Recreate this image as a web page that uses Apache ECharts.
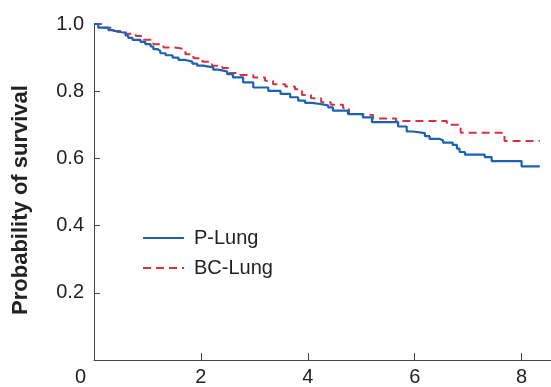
<!DOCTYPE html>
<html>
<head>
<meta charset="utf-8">
<script src="https://cdn.jsdelivr.net/npm/echarts@6/dist/echarts.min.js"></script>
<style>
html,body{margin:0;padding:0;background:#fff;}
#chart{width:551px;height:387px;}
</style>
</head>
<body>
<div id="chart"></div>
<script>
// P-Lung Kaplan-Meier steps (time in years, survival probability)
var pLungTimes = [0, 0.08, 0.27, 0.35, 0.44, 0.59, 0.64, 0.72, 0.87, 0.96, 1.06, 1.11, 1.19, 1.24, 1.34, 1.47, 1.58, 1.71, 1.84, 1.93, 2.04, 2.23, 2.32, 2.49, 2.60, 2.79, 2.98, 3.26, 3.49, 3.67, 3.82, 3.95, 4.08, 4.23, 4.38, 4.47, 4.75, 5.03, 5.20, 5.69, 5.85, 5.97, 6.19, 6.28, 6.47, 6.53, 6.71, 6.79, 6.84, 6.94, 7.31, 7.44, 8.00, 8.34];
var pLungSurv  = [1.000, 0.989, 0.982, 0.977, 0.974, 0.966, 0.959, 0.953, 0.947, 0.940, 0.933, 0.925, 0.920, 0.913, 0.907, 0.900, 0.893, 0.888, 0.882, 0.876, 0.871, 0.864, 0.859, 0.851, 0.841, 0.826, 0.811, 0.801, 0.792, 0.782, 0.772, 0.765, 0.762, 0.758, 0.752, 0.742, 0.732, 0.722, 0.708, 0.695, 0.680, 0.675, 0.666, 0.658, 0.653, 0.647, 0.640, 0.629, 0.619, 0.611, 0.604, 0.592, 0.576, 0.576];

// BC-Lung Kaplan-Meier steps
var bcLungTimes = [0, 0.18, 0.36, 0.59, 0.78, 0.92, 1.11, 1.30, 1.52, 1.71, 1.86, 2.03, 2.21, 2.40, 2.51, 2.74, 2.98, 3.20, 3.35, 3.58, 3.76, 3.89, 4.06, 4.25, 4.43, 4.66, 4.77, 4.98, 5.22, 5.65, 6.60, 6.86, 7.68, 8.34];
var bcLungSurv  = [1.000, 0.989, 0.979, 0.971, 0.964, 0.953, 0.940, 0.930, 0.925, 0.910, 0.898, 0.888, 0.876, 0.869, 0.854, 0.848, 0.841, 0.831, 0.821, 0.814, 0.806, 0.789, 0.779, 0.767, 0.760, 0.750, 0.732, 0.729, 0.719, 0.711, 0.700, 0.676, 0.652, 0.652];

var seriesNames = ['P-Lung', 'BC-Lung'];
var xTickLabels = ['0', '2', '4', '6', '8'];
var yTickLabels = ['0.2', '0.4', '0.6', '0.8', '1.0'];

function pairs(ts, vs) { return ts.map(function (t, i) { return [t, vs[i]]; }); }

var FONT = '"Liberation Sans", Arial, Helvetica, sans-serif';
var chart = echarts.init(document.getElementById('chart'), null, {renderer: 'canvas'});
chart.setOption({
  animation: false,
  backgroundColor: '#ffffff',
  grid: {left: 94, right: 0, top: 24, bottom: 27, containLabel: false},
  legend: {
    orient: 'vertical', left: 142, top: 228, padding: 0,
    itemWidth: 41, itemHeight: 14, itemGap: 10,
    itemStyle: {opacity: 0},
    textStyle: {fontFamily: FONT, fontSize: 20, color: '#222', lineHeight: 20, padding: [0, 0, 0, 5]},
    data: seriesNames
  },
  xAxis: {
    type: 'value', min: 0, max: 8.55, interval: 2,
    axisLine: {show: true, lineStyle: {color: '#444', width: 1}},
    axisTick: {show: true, inside: true, length: 7, lineStyle: {color: '#444'}},
    splitLine: {show: false},
    axisLabel: {
      showMaxLabel: false, margin: 7,
      fontFamily: FONT, fontSize: 20, color: '#222',
      formatter: function (v) {
        var s = xTickLabels[Math.round(v / 2)];
        if (s === undefined) return '';
        return v === 0 ? '{z|' + s + '}' : s;
      },
      rich: {z: {fontFamily: FONT, fontSize: 20, color: '#222', padding: [0, 27, 0, 0]}}
    }
  },
  yAxis: {
    type: 'value', min: 0, max: 1, interval: 0.2,
    name: 'Probability of survival', nameLocation: 'middle', nameGap: 62, nameRotate: 90,
    nameTextStyle: {fontFamily: FONT, fontSize: 22, fontWeight: 'bold', color: '#222', padding: [0, 16, 0, 0]},
    axisLine: {show: true, lineStyle: {color: '#444', width: 1}},
    axisTick: {show: true, inside: true, length: 6, lineStyle: {color: '#444'}},
    splitLine: {show: false},
    axisLabel: {
      showMinLabel: false, margin: 10,
      fontFamily: FONT, fontSize: 20, color: '#222',
      formatter: function (v) {
        var i = Math.round(v / 0.2) - 1;
        return i >= 0 && yTickLabels[i] !== undefined ? yTickLabels[i] : '';
      }
    }
  },
  series: [
    {
      name: seriesNames[0], type: 'line', step: 'end', symbol: 'none', showSymbol: false,
      data: pairs(pLungTimes, pLungSurv),
      lineStyle: {color: '#1b62b3', width: 2.2, type: 'solid'},
      itemStyle: {color: '#1b62b3'}, z: 3
    },
    {
      name: seriesNames[1], type: 'line', step: 'end', symbol: 'none', showSymbol: false,
      data: pairs(bcLungTimes, bcLungSurv),
      lineStyle: {color: '#d9323f', width: 2, type: [8, 5]},
      itemStyle: {color: '#d9323f'}, z: 2
    }
  ]
});
</script>
</body>
</html>
